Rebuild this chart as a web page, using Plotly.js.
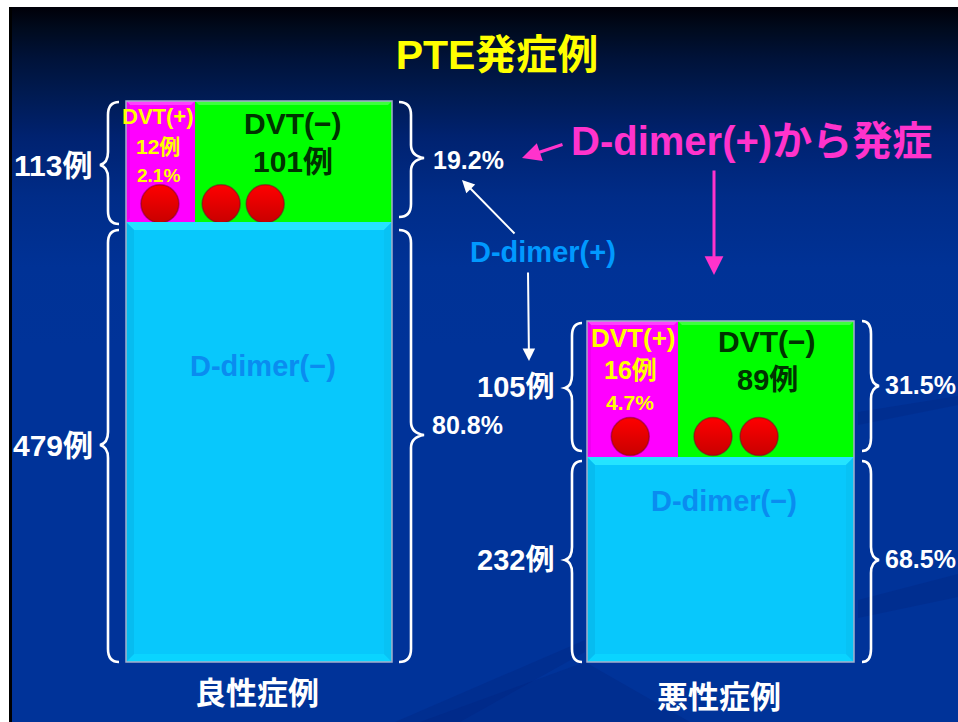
<!DOCTYPE html>
<html>
<head>
<meta charset="utf-8">
<script src="https://cdn.plot.ly/plotly-3.0.1.min.js"></script>
<style>
  html, body { margin: 0; padding: 0; background: #fff; }
  #chart {
    width: 958px; height: 722px;
    background:
      linear-gradient(#000008 0, #000a1c 20px, #001238 50px, #001a50 85px, #002270 130px, #002c88 190px, #003296 260px, #003399 340px) no-repeat 12px 7px / 946px 715px,
      linear-gradient(#000, #000) no-repeat 9px 7px / 3px 715px;
  }
</style>
</head>
<body>
<div id="chart"></div>
<script>
// Case counts per group: benign, malignant
const groupNames = ['良性症例', '悪性症例'];
const ddimerPosCases = [113, 105];
const ddimerNegCases = [479, 232];
const ddimerPosPct = ['19.2%', '31.5%'];
const ddimerNegPct = ['80.8%', '68.5%'];
const dvtPosCases = [12, 16];
const dvtNegCases = [101, 89];
const dvtPosPct = ['2.1%', '4.7%'];

// PTE onsets, one dot each, placed along the case count of their DVT cell
const pteDvtPos = [[5.9], [7.6]];
const pteDvtNeg = [[13.4, 36], [17.7, 41]];

const W = 958, H = 722;
const FONT = '"Liberation Sans","Noto Sans CJK JP",sans-serif';

// The diagram is schematic: each cell has its own box and its own value scale
const boxes = [
  { x0: 126, xm: 195, x1: 392, top: 101, mid: 222, bot: 662 },
  { x0: 587, xm: 678, x1: 854, top: 321, mid: 457, bot: 662 }
];

const px = x => x / W;
const py = y => 1 - y / H;

const traces = [];
const layout = {
  width: W, height: H,
  margin: { l: 0, r: 0, t: 0, b: 0 },
  paper_bgcolor: 'rgba(0,0,0,0)',
  plot_bgcolor: 'rgba(0,0,0,0)',
  showlegend: false,
  hovermode: false,
  title: {
    text: 'PTE発症例', x: 497 / W, xanchor: 'center', y: py(55), yanchor: 'middle',
    font: { family: FONT, size: 41, color: '#ffff00', weight: 700 }
  },
  shapes: [],
  annotations: []
};

let axisCount = 0;
function addCell(value, color, x0, x1, y0, y1, name) {
  axisCount += 1;
  const sfx = axisCount === 1 ? '' : String(axisCount);
  const base = { visible: false, fixedrange: true };
  layout['xaxis' + sfx] = { ...base, domain: [px(x0), px(x1)], range: [0, value], anchor: 'y' + sfx };
  layout['yaxis' + sfx] = { ...base, domain: [py(y1), py(y0)], range: [-0.5, 0.5], anchor: 'x' + sfx };
  traces.push({
    type: 'bar', orientation: 'h', name, x: [value], y: [0], width: [1],
    xaxis: 'x' + sfx, yaxis: 'y' + sfx,
    marker: { color, line: { width: 0 } }
  });
  return sfx;
}

function addDots(xs, sfx) {
  traces.push({
    type: 'scatter', mode: 'markers', cliponaxis: false,
    x: xs, y: xs.map(() => -0.35),
    xaxis: 'x' + sfx, yaxis: 'y' + sfx,
    marker: {
      size: 38, color: '#ff0000',
      gradient: { type: 'vertical', color: '#c80000' },
      line: { width: 1.5, color: 'rgba(120,0,40,0.5)' }
    }
  });
}

function poly(points, fill) {
  const d = points.map((p, i) => (i ? 'L' : 'M') + px(p[0]) + ',' + py(p[1])).join(' ') + ' Z';
  layout.shapes.push({ type: 'path', xref: 'paper', yref: 'paper', path: d, fillcolor: fill, line: { width: 0 }, layer: 'above' });
}

// Bevelled edge of a cell: trapezoids around the face, any side may be left out
function bevel(x0, y0, x1, y1, t, colors) {
  if (colors.top) poly([[x0, y0], [x1, y0], [x1 - t, y0 + t], [x0 + t, y0 + t]], colors.top);
  if (colors.bottom) poly([[x0, y1], [x1, y1], [x1 - t, y1 - t], [x0 + t, y1 - t]], colors.bottom);
  if (colors.left) poly([[x0, y0], [x0 + t, y0 + t], [x0 + t, y1 - t], [x0, y1]], colors.left);
  if (colors.right) poly([[x1, y0], [x1 - t, y0 + t], [x1 - t, y1 - t], [x1, y1]], colors.right);
}

// Curly brace whose tip points away from the box
function brace(outerX, stemX, tipX, top, bot, tipY) {
  const c = (x, y) => px(x) + ',' + py(y);
  const r = 13;
  const d = 'M' + c(outerX, top) +
    ' Q' + c(stemX, top) + ' ' + c(stemX, top + r) +
    ' L' + c(stemX, tipY - r) +
    ' Q' + c(stemX, tipY - 2) + ' ' + c(tipX, tipY) +
    ' Q' + c(stemX, tipY + 2) + ' ' + c(stemX, tipY + r) +
    ' L' + c(stemX, bot - r) +
    ' Q' + c(stemX, bot) + ' ' + c(outerX, bot);
  layout.shapes.push({ type: 'path', xref: 'paper', yref: 'paper', path: d, line: { color: '#ffffff', width: 2.6 }, layer: 'above' });
}

function label(text, x, y, size, color) {
  layout.annotations.push({
    text, x: px(x), y: py(y), xref: 'paper', yref: 'paper', showarrow: false,
    xanchor: 'center', yanchor: 'middle',
    font: { family: FONT, size, color, weight: 700 }
  });
}

function arrow(x0, y0, x1, y1, color, width) {
  layout.annotations.push({
    text: '', x: px(x1), y: py(y1), xref: 'paper', yref: 'paper',
    showarrow: true, ax: x0 - x1, ay: y0 - y1, axref: 'pixel', ayref: 'pixel',
    arrowhead: 2, arrowsize: 1.25, arrowwidth: width, arrowcolor: color, standoff: 0
  });
}

// Faint sweeping bands in the slide background
[
  [[858, 600], [958, 574], [958, 597], [858, 618]],
  [[858, 425], [958, 405], [958, 396], [858, 412]],
  [[395, 722], [585, 640], [585, 652], [460, 722]],
  [[420, 722], [585, 662], [690, 722]]
].forEach(b => poly(b, 'rgba(0,32,120,0.25)'));

const DASH = '\u2212';
boxes.forEach((b, i) => {
  addCell(ddimerNegCases[i], '#08c8fc', b.x0, b.x1, b.mid, b.bot, 'D-dimer(-)');
  const pos = addCell(dvtPosCases[i], '#ff00ff', b.x0, b.xm, b.top, b.mid, 'DVT(+)');
  const nonDvt = addCell(dvtNegCases[i], '#00ff00', b.xm, b.x1, b.top, b.mid, 'DVT(-)');
  addDots(pteDvtPos[i], pos);
  addDots(pteDvtNeg[i], nonDvt);

  bevel(b.x0, b.mid, b.x1, b.bot, 8,
    { top: '#24e4ff', bottom: '#0ad4ff', left: '#07bcf0', right: '#08c2f4' });
  bevel(b.xm, b.top, b.x1, b.mid, 4, { top: '#3dff3d' });
  bevel(b.x0, b.top, b.xm, b.mid, 4, { top: '#ff40ff', left: '#f000f0' });

  layout.shapes.push({
    type: 'rect', xref: 'paper', yref: 'paper',
    x0: px(b.x0), x1: px(b.x1), y0: py(b.bot), y1: py(b.top),
    line: { color: '#a4b0cc', width: 1.5 }, fillcolor: 'rgba(0,0,0,0)', layer: 'above'
  });
});

// Left group: labels and braces
label(ddimerPosCases[0] + '例', 53, 165, 30, '#fff');
label(ddimerNegCases[0] + '例', 53, 445, 30, '#fff');
label(ddimerPosPct[0], 468, 160, 25, '#fff');
label(ddimerNegPct[0], 467, 425, 25, '#fff');
label('DVT(+)', 158, 116, 22, '#ffff00');
label(dvtPosCases[0] + '例', 158, 146, 21, '#ffff00');
label(dvtPosPct[0], 158, 175, 19, '#ffff00');
label('DVT(' + DASH + ')', 293, 123, 30, '#003300');
label(dvtNegCases[0] + '例', 293, 161, 30, '#003300');
label('D-dimer(' + DASH + ')', 263, 366, 29, '#0a8cf0');
label(groupNames[0], 257, 693, 31, '#fff');
brace(119, 108, 100, 102, 224, 165);
brace(119, 108, 100, 230, 662, 445);
brace(399, 411, 424, 102, 217, 158);
brace(399, 411, 424, 230, 662, 435);

// Right group: labels and braces
label(ddimerPosCases[1] + '例', 515, 387, 29, '#fff');
label(ddimerNegCases[1] + '例', 515, 560, 29, '#fff');
label(ddimerPosPct[1], 920, 385, 25, '#fff');
label(ddimerNegPct[1], 920, 559, 25, '#fff');
label('DVT(+)', 633, 338, 26, '#ffff00');
label(dvtPosCases[1] + '例', 630, 370, 25, '#ffff00');
label(dvtPosPct[1], 630, 402, 21, '#ffff00');
label('DVT(' + DASH + ')', 767, 342, 30, '#003300');
label(dvtNegCases[1] + '例', 767, 380, 29, '#003300');
label('D-dimer(' + DASH + ')', 724, 501, 29, '#0a8cf0');
label(groupNames[1], 719, 697, 31, '#fff');
brace(582, 572, 565, 323, 451, 388);
brace(582, 572, 565, 461, 662, 560);
brace(862, 871, 879, 321, 451, 386);
brace(862, 871, 879, 461, 662, 560);

// Callouts
label('D-dimer(+)', 543, 252, 29, '#0099ff');
label('D-dimer(+)から発症', 751, 141, 40, '#ff33cc');
arrow(564, 144, 522, 158, '#ff33cc', 3);
arrow(714, 169, 714, 275, '#ff33cc', 3);
arrow(516, 235, 462, 180, '#ffffff', 2);
arrow(528, 271, 529, 361, '#ffffff', 2);

Plotly.newPlot('chart', traces, layout, { displayModeBar: false, staticPlot: true });
</script>
</body>
</html>
